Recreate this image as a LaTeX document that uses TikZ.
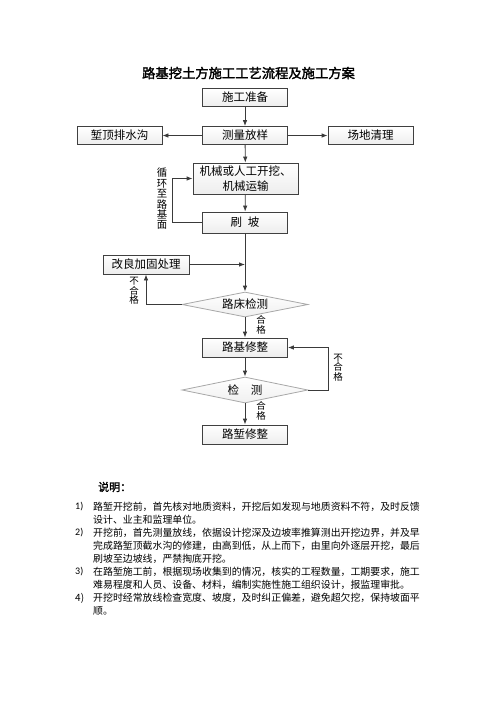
\documentclass[tikz,border=0pt]{standalone}
\usepackage{fontspec}
\usepackage{xcolor}
\usetikzlibrary{shapes.geometric,arrows.meta}
\setmainfont{Noto Sans CJK SC}
\newfontfamily\cjkbold[FakeBold=2]{Noto Sans CJK SC}
\newfontfamily\numfont{Carlito}
\definecolor{boxline}{HTML}{404040}
\definecolor{dialine}{HTML}{A8A8A8}
\definecolor{arrline}{HTML}{3A3A3A}

\tikzset{
  box/.style={draw=boxline, line width=0.8pt, top color=white, bottom color=gray!14,
    minimum width=85pt, minimum height=18pt, inner sep=1pt,
    font=\fontsize{11.5}{13}\selectfont},
  decide/.style={diamond, draw=dialine, line width=0.8pt, top color=white, bottom color=gray!12,
    minimum width=126pt, minimum height=25pt, inner sep=0pt, aspect=5,
    font=\fontsize{11.5}{13}\selectfont},
  arr/.style={draw=arrline, line width=0.8pt, -{Latex[length=6pt,width=4.5pt]}},
  ln/.style={draw=arrline, line width=0.8pt},
  vlabel/.style={align=center, inner sep=0pt},
  note/.style={anchor=west, inner sep=0pt, font=\fontsize{9.9}{12}\selectfont},
  num/.style={anchor=west, inner sep=0pt, font=\numfont\fontsize{10}{12}\selectfont}
}

\begin{document}
\begin{tikzpicture}[x=1pt,y=-1pt]
\fill[white] (0,0) rectangle (496,702);
\useasboundingbox (0,0) rectangle (496,702);

\node[font=\cjkbold\fontsize{13.3}{15}\selectfont] (title) at (248.5,73) {路基挖土方施工工艺流程及施工方案};

\node[box] (zb) at (245,97.5) {施工准备};
\node[box] (cl) at (245,135.5) {测量放样};
\node[box] (pd) at (119.5,135.5) {堑顶排水沟};
\node[box] (cd) at (370.5,135.5) {场地清理};
\node[box, minimum width=105pt, minimum height=31pt, align=center,
  font=\fontsize{11.5}{15}\selectfont] (jx) at (245.5,178.5) {机械或人工开挖、\\机械运输};
\node[box, minimum height=21pt] (sp) at (245,222.5) {刷\hspace{6pt}坡};
\node[box, minimum width=86pt, minimum height=19pt] (gl) at (146,264.5) {改良加固处理};
\node[decide] (jc1) at (245,304.5) {路床检测};
\node[box, minimum height=19pt] (lj) at (245,347.5) {路基修整};
\node[decide, minimum height=26pt] (jc2) at (245,390) {检\hspace{12pt}测};
\node[box, minimum height=19pt] (lq) at (245,434.5) {路堑修整};

\draw[arr] (zb) -- (cl);
\draw[arr] (cl) -- (pd);
\draw[arr] (cl) -- (cd);
\draw[arr] (cl) -- (jx);
\draw[arr] (jx) -- (sp);
\draw[arr] (sp.west) -- ++(-30,0) |- (jx.west);
\draw[arr] (sp.south) -- (jc1.north);
\draw[arr] (gl.east) -- (gl.east -| sp.south);
\draw[arr] (jc1.west) -| (gl.south);
\draw[arr] (jc1.south) -- (lj.north);
\draw[arr] (lj.south) -- (jc2.north);
\draw[arr] (jc2.east) -- ++(20,0) |- (lj.east);
\draw[arr] (jc2.south) -- (lq.north);

\node[vlabel, font=\fontsize{10.4}{10.4}\selectfont] (xh) at (162,199) {循\\环\\至\\路\\基\\面};
\node[vlabel, font=\fontsize{9.5}{9.5}\selectfont] (bh1) at (134,291) {不\\合\\格};
\node[vlabel, font=\fontsize{9.5}{9.5}\selectfont] (hg1) at (261,325) {合\\格};
\node[vlabel, font=\fontsize{9.5}{9.5}\selectfont] (bh2) at (338,367.5) {不\\合\\格};
\node[vlabel, font=\fontsize{9.5}{9.5}\selectfont] (hg2) at (261,411) {合\\格};

\node[anchor=west, inner sep=0pt, font=\cjkbold\fontsize{11}{13}\selectfont] (sm) at (98,487) {说明：};

\node[num] (k1) at (75,507) {1)};
\node[note] (n1a) at (93,507) {路堑开挖前，首先核对地质资料，开挖后如发现与地质资料不符，及时反馈};
\node[note] (n1b) at (93,520) {设计、业主和监理单位。};
\node[num] (k2) at (75,533) {2)};
\node[note] (n2a) at (93,533) {开挖前，首先测量放线，依据设计挖深及边坡率推算测出开挖边界，并及早};
\node[note] (n2b) at (93,546) {完成路堑顶截水沟的修建，由高到低，从上而下，由里向外逐层开挖，最后};
\node[note] (n2c) at (93,559) {刷坡至边坡线，严禁掏底开挖。};
\node[num] (k3) at (75,572) {3)};
\node[note] (n3a) at (93,572) {在路堑施工前，根据现场收集到的情况，核实的工程数量，工期要求，施工};
\node[note] (n3b) at (93,585) {难易程度和人员、设备、材料，编制实施性施工组织设计，报监理审批。};
\node[num, font=\fontsize{10}{12}\selectfont] (k4) at (75,598) {4)};
\node[note] (n4a) at (93,598) {开挖时经常放线检查宽度、坡度，及时纠正偏差，避免超欠挖，保持坡面平};
\node[note] (n4b) at (93,611) {顺。};
\end{tikzpicture}
\end{document}
